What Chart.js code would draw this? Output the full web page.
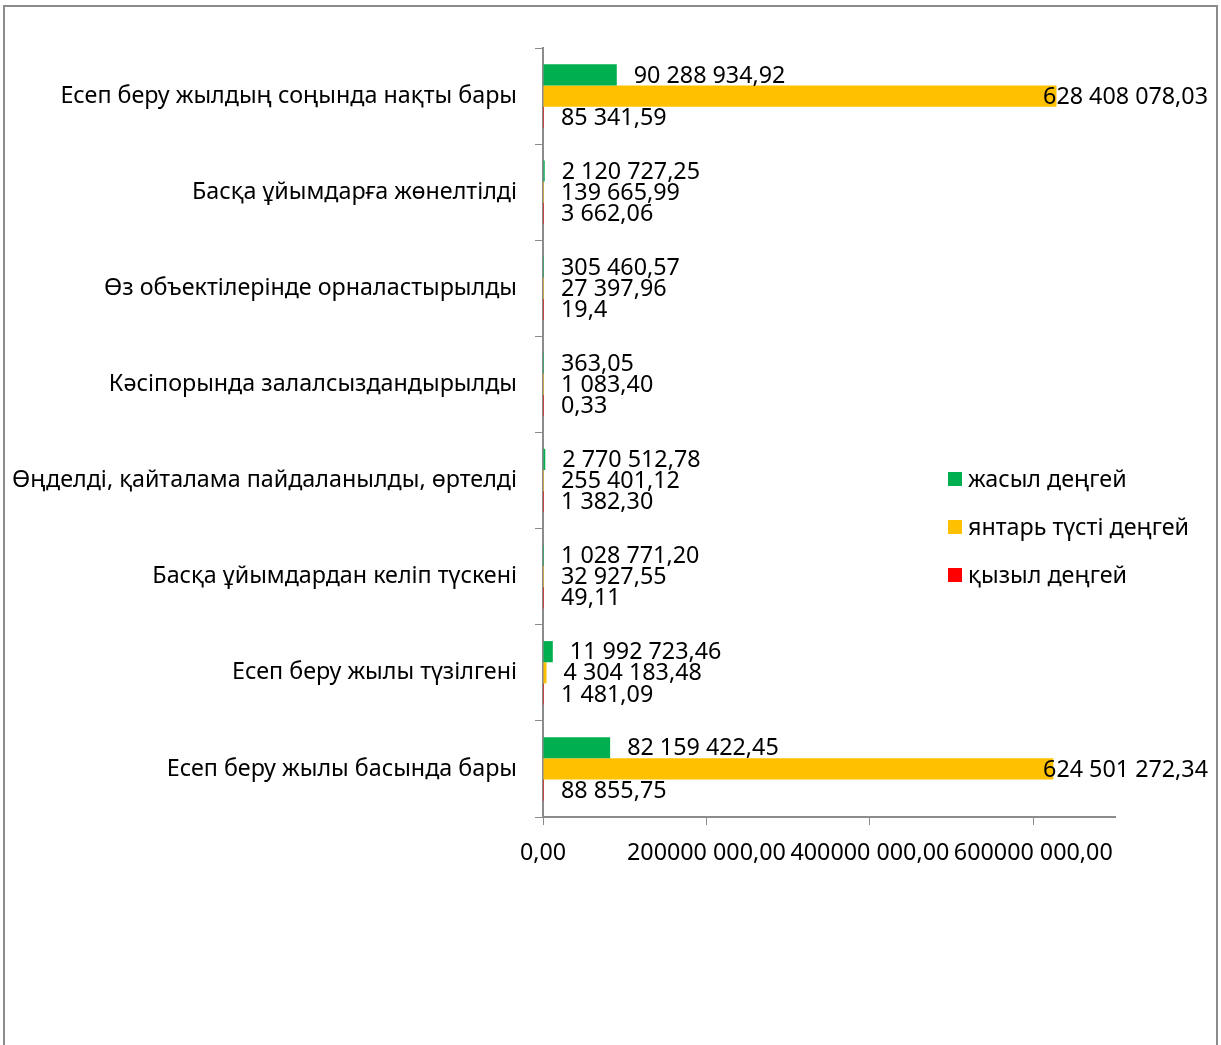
<!DOCTYPE html>
<html lang="kk">
<head>
    <meta charset="UTF-8">
    <title>Қалдықтар</title>
    <script src="https://cdn.jsdelivr.net/npm/chart.js"></script>
    <style>
        body { margin: 0; background: #fff; }
        #wrap { position: relative; width: 1221px; height: 1045px; overflow: hidden; }
        #frame { position: absolute; left: 3px; top: 5px; width: 1211px; height: 1100px; border: 2px solid #8c8c8c; }
        canvas { position: absolute; left: 0; top: 0; }
    </style>
</head>
<body>
<div id="wrap">
    <div id="frame"></div>
    <canvas id="wasteChart" width="1221" height="1045"></canvas>
</div>

<script>
// categories, top to bottom
const categories = [
    'Есеп беру жылдың соңында нақты бары',
    'Басқа ұйымдарға жөнелтілді',
    'Өз объектілерінде орналастырылды',
    'Кәсіпорында залалсыздандырылды',
    'Өңделді, қайталама пайдаланылды, өртелді',
    'Басқа ұйымдардан келіп түскені',
    'Есеп беру жылы түзілгені',
    'Есеп беру жылы басында бары'
];

const seriesNames = ['жасыл деңгей', 'янтарь түсті деңгей', 'қызыл деңгей'];

const greenValues = [90288934.92, 2120727.25, 305460.57, 363.05, 2770512.78, 1028771.20, 11992723.46, 82159422.45];
const amberValues = [628408078.03, 139665.99, 27397.96, 1083.40, 255401.12, 32927.55, 4304183.48, 624501272.34];
const redValues = [85341.59, 3662.06, 19.4, 0.33, 1382.30, 49.11, 1481.09, 88855.75];

// value labels as printed on the chart
const greenLabels = ['90 288 934,92', '2 120 727,25', '305 460,57', '363,05', '2 770 512,78', '1 028 771,20', '11 992 723,46', '82 159 422,45'];
const amberLabels = ['628 408 078,03', '139 665,99', '27 397,96', '1 083,40', '255 401,12', '32 927,55', '4 304 183,48', '624 501 272,34'];
const redLabels = ['85 341,59', '3 662,06', '19,4', '0,33', '1 382,30', '49,11', '1 481,09', '88 855,75'];

const xTickValues = [0, 200000000, 400000000, 600000000];
const xTickLabels = ['0,00', '200000 000,00', '400000 000,00', '600000 000,00'];

const FONT = 'Noto Sans';
const FONT_SIZE = 23.3;

const valueLabelPlugin = {
    id: 'valueLabels',
    afterDatasetsDraw(chart) {
        const ctx = chart.ctx;
        const labelSets = [greenLabels, amberLabels, redLabels];
        ctx.save();
        ctx.font = FONT_SIZE + 'px "' + FONT + '"';
        ctx.fillStyle = '#000';
        ctx.textBaseline = 'middle';
        ctx.textAlign = 'left';
        chart.data.datasets.forEach((ds, i) => {
            chart.getDatasetMeta(i).data.forEach((bar, j) => {
                const txt = labelSets[i][j];
                const w = ctx.measureText(txt).width;
                let x = Math.max(bar.x, bar.base) + 17;
                if (x + w > 1208) x = 1208 - w;
                ctx.fillText(txt, x, bar.y + 1);
            });
        });
        ctx.restore();
    }
};

const legendPlugin = {
    id: 'sideLegend',
    afterDraw(chart) {
        const ctx = chart.ctx;
        ctx.save();
        ctx.font = FONT_SIZE + 'px "' + FONT + '"';
        ctx.textBaseline = 'middle';
        chart.data.datasets.forEach((ds, i) => {
            const y = 479 + i * 48;
            ctx.fillStyle = ds.backgroundColor;
            ctx.fillRect(948, y - 7, 14, 14);
            ctx.fillStyle = '#000';
            ctx.fillText(seriesNames[i], 968, y + 1);
        });
        ctx.restore();
    }
};

const ctx = document.getElementById('wasteChart').getContext('2d');
const chart = new Chart(ctx, {
    type: 'bar',
    data: {
        labels: categories,
        datasets: [
            { label: seriesNames[0], data: greenValues, backgroundColor: '#00B050' },
            { label: seriesNames[1], data: amberValues, backgroundColor: '#FFC000' },
            { label: seriesNames[2], data: redValues, backgroundColor: '#FF0000' }
        ]
    },
    options: {
        indexAxis: 'y',
        responsive: false,
        animation: false,
        categoryPercentage: 0.66,
        barPercentage: 1.0,
        minBarLength: 1,
        layout: { padding: { top: 48, right: 106, bottom: 0, left: 0 } },
        plugins: {
            legend: { display: false },
            tooltip: { enabled: false }
        },
        scales: {
            x: {
                min: 0,
                max: 700000000,
                afterBuildTicks: s => { s.ticks = xTickValues.map(v => ({ value: v })); },
                afterFit: s => { s.height = 228; },
                grid: { drawOnChartArea: false, drawTicks: true, tickLength: 8, color: '#8c8c8c' },
                border: { color: '#8c8c8c', width: 2 },
                ticks: {
                    maxRotation: 0,
                    autoSkip: false,
                    padding: 14,
                    color: '#000',
                    font: { family: FONT, size: FONT_SIZE },
                    callback: (v, i) => xTickLabels[i]
                }
            },
            y: {
                afterFit: s => { s.width = 543; },
                grid: { drawOnChartArea: false, drawTicks: true, tickLength: 8, color: '#8c8c8c' },
                border: { color: '#8c8c8c', width: 2 },
                ticks: {
                    padding: 18,
                    color: '#000',
                    font: { family: FONT, size: FONT_SIZE }
                }
            }
        }
    },
    plugins: [valueLabelPlugin, legendPlugin]
});
</script>
</body>
</html>
